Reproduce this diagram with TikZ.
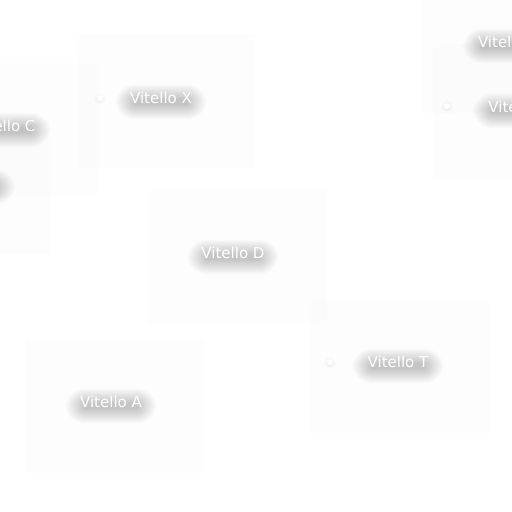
\documentclass[tikz,border=0pt]{standalone}
\usepackage{fontspec}
\setmainfont{DejaVu Sans}
\tikzset{
  panel/.style={draw=none, fill=black, fill opacity=0.007, minimum width=178pt, minimum height=134pt, inner sep=0pt},
  lbl/.style={text=white, inner sep=0pt, font=\fontsize{15}{17}\selectfont},
  dotmark/.style={circle, fill=white, inner sep=0pt, minimum size=6pt},
  softlayer/.style={fill=black, opacity=0.014},
}
% soft shadow: stacked rounded boxes below the text
\newcommand\blurlabel[4]{%
  \foreach \r in {1,2,...,14}{%
    \fill[softlayer, rounded corners={\r*1.4 pt}] ({#2-26-\r*1.4},{#3+2-\r*1.1}) rectangle ({#2+26+\r*1.4},{#3+6+\r*1.1});}%
  \node[lbl] (#1) at (#2,#3) {#4};}
\newcommand\blurdot[3]{%
  \foreach \r in {2,3,...,6}{%
    \fill[black, opacity=0.012] ({#2},{#3+1}) circle ({\r pt});}%
  \node[dotmark] (#1) at (#2,#3) {};}
\begin{document}
\begin{tikzpicture}[x=1pt,y=-1pt]
\useasboundingbox (0,0) rectangle (512,512);
\fill[white] (0,0) rectangle (512,512);
\clip (0,0) rectangle (512,512);
% panels
\node[panel] (pC) at (8,130) {};
\node[panel] (pB) at (-39,187) {};
\node[panel] (pX) at (165.5,100.5) {};
\node[panel] (pE) at (512,45.5) {};
\node[panel] (pF) at (522,110.5) {};
\node[panel] (pD) at (237.5,257) {};
\node[panel] (pT) at (399.5,366) {};
\node[panel] (pA) at (114.5,405.5) {};
% dots
\blurdot{dX}{100}{98}
\blurdot{dF}{447}{106}
\blurdot{dT}{330}{362}
% labels
\blurlabel{lC}{4.5}{126}{Vitello C}
\blurlabel{lB}{-30.5}{183}{Vitello B}
\blurlabel{lX}{161}{98}{Vitello X}
\blurlabel{lE}{508.5}{42}{Vitello E}
\blurlabel{lF}{518.5}{107}{Vitello F}
\blurlabel{lD}{233}{253}{Vitello D}
\blurlabel{lT}{398}{362}{Vitello T}
\blurlabel{lA}{111}{402}{Vitello A}
\end{tikzpicture}
\end{document}
